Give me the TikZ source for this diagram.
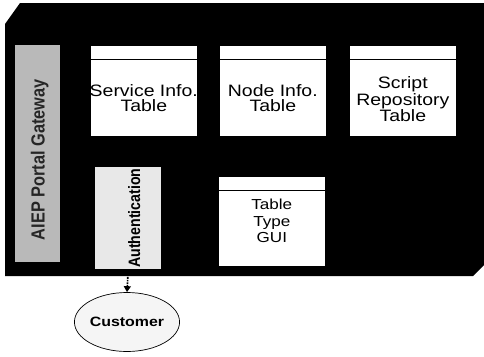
\documentclass[tikz,border=0pt]{standalone}
\usepackage{fontspec}
\setmainfont[FakeStretch=1.18]{Liberation Sans}
\newfontfamily\uprightlabel[FakeStretch=0.86]{Liberation Sans}
\usetikzlibrary{arrows.meta,shapes.geometric}
\begin{document}
\begin{tikzpicture}[x=1pt,y=-1pt,
  tablebox/.style={draw=black, fill=white, line width=0.6pt, minimum width=107pt,
    anchor=north west, inner sep=0pt},
  tabletext/.style={align=center, font=\fontsize{16.5}{15}\selectfont},
  greybar/.style={fill=gray!55, draw=none},
  authbox/.style={fill=gray!18, draw=none},
  flow/.style={densely dotted, line width=1.6pt, -{Triangle[length=6pt,width=7pt]}}]
\useasboundingbox (0,0) rectangle (484,356);
% dark platform
\fill[black] (5,24) -- (20,3) -- (484,3) -- (484,265) -- (473,276) -- (5,276) -- cycle;
% gateway column
\node[greybar, minimum width=45pt, minimum height=217pt, anchor=north west] (gw) at (15,45) {};
\node[rotate=90, font=\uprightlabel\bfseries\fontsize{19}{19}\selectfont, text=black!85] (gwtext) at ([xshift=2pt,yshift=-6pt]gw.center) {AIEP Portal Gateway};
% table boxes
\node[tablebox, minimum height=91pt] (svc) at (90,45) {};
\node[tablebox, minimum height=91pt] (nod) at (219,45) {};
\node[tablebox, minimum height=91pt] (scr) at (349,45) {};
\node[tablebox, minimum height=90pt] (gui) at (218,176) {};
\foreach \b in {svc,nod,scr,gui}
  \draw[line width=0.7pt] ([yshift=-14pt]\b.north west) -- ([yshift=-14pt]\b.north east);
\node[tabletext] (svct) at ([yshift=-7pt]svc.center) {Service Info.\\Table};
\node[tabletext] (nodt) at ([yshift=-7pt]nod.center) {Node Info.\\Table};
\node[tabletext] (scrt) at ([yshift=-8.5pt]scr.center) {Script\\Repository\\Table};
\node[align=center, font=\fontsize{14.5}{16.5}\selectfont] (guit) at (gui.center) {Table\\Type\\GUI};
% authentication
\node[authbox, minimum width=66pt, minimum height=102pt, anchor=north west] (auth) at (95,167) {};
\node[rotate=90, font=\uprightlabel\bfseries\fontsize{16.5}{16.5}\selectfont] (autht) at ([xshift=6pt]auth.center) {Authentication};
% customer
\node[draw, fill=gray!8, ellipse, minimum width=82pt, minimum height=59pt, inner sep=0pt,
  font=\bfseries\fontsize{13.5}{14}\selectfont, line width=0.7pt] (cust) at (127,322) {Customer};
\draw[flow] (auth.south) -- (cust.north);
\end{tikzpicture}
\end{document}
